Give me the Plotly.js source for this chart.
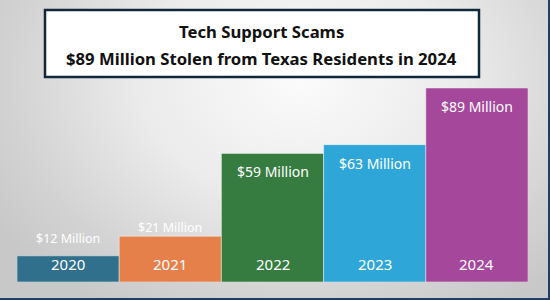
<!DOCTYPE html>
<html>
<head>
<meta charset="utf-8">
<script src="https://cdn.plot.ly/plotly-3.0.1.min.js"></script>
<style>
html,body{margin:0;padding:0;}
#chart{width:550px;height:300px;background:radial-gradient(ellipse 360px 270px at 300px 80px,#fbfbfb 0%,#ebebeb 45%,#d3d3d3 80%,#c8c8c8 100%);}
</style>
</head>
<body>
<div id="chart"></div>
<script>
const years = ['2020','2021','2022','2023','2024'];
const values = [12, 21, 59, 63, 89];
const valueLabels = ['$12 Million','$21 Million','$59 Million','$63 Million','$89 Million'];
const labelInside = [false, false, true, true, true];
const colors = ['#30708c','#e6804a','#367b40','#2ea7d8','#a5479a'];
const titleLines = ['Tech Support Scams','$89 Million Stolen from Texas Residents in 2024'];

const font = '"Noto Sans", Roboto, sans-serif';
const outsideShift = {'2020': 7, '2021': -2};

const annotations = [];
years.forEach((yr, i) => {
  annotations.push({
    x: yr, y: values[i], xref: 'x', yref: 'y',
    text: valueLabels[i], showarrow: false,
    yanchor: labelInside[i] ? 'top' : 'bottom',
    yshift: labelInside[i] ? -7 : (outsideShift[yr] ?? 6),
    font: {family: font, size: labelInside[i] ? 14 : 12.5, color: '#ffffff'}
  });
  annotations.push({
    x: yr, y: 0, xref: 'x', yref: 'y',
    text: yr, showarrow: false, yanchor: 'bottom', yshift: 6,
    font: {family: font, size: 15, color: '#ffffff'}
  });
});
const titleY = [(282-32)/194, (282-58)/194];
titleLines.forEach((t, i) => {
  annotations.push({
    x: (261-17)/511, y: titleY[i], xref: 'paper', yref: 'paper',
    text: '<b>' + t + '</b>', showarrow: false,
    xanchor: 'center', yanchor: 'middle',
    font: {family: font, size: 16.7, color: '#111111'}
  });
});

const trace = {
  type: 'bar', x: years, y: values,
  marker: {color: colors, line: {color: 'rgba(255,255,255,0.45)', width: 1}},
  hoverinfo: 'none'
};

const layout = {
  width: 550, height: 300,
  margin: {l: 17, r: 22, t: 88, b: 18, pad: 0},
  paper_bgcolor: 'rgba(0,0,0,0)', plot_bgcolor: 'rgba(0,0,0,0)',
  bargap: 0,
  showlegend: false,
  xaxis: {visible: false, fixedrange: true},
  yaxis: {visible: false, range: [0, 89], fixedrange: true},
  shapes: [
    {type: 'rect', xref: 'paper', yref: 'paper',
     x0: (45-17)/511, x1: (479-17)/511, y0: (282-77)/194, y1: (282-10)/194,
     fillcolor: '#ffffff', line: {color: '#10283a', width: 2.5}, layer: 'below'},
    {type: 'line', xref: 'paper', yref: 'paper',
     x0: (549-17)/511, x1: (549-17)/511, y0: (282-300)/194, y1: (282-0)/194,
     line: {color: '#1f3f6a', width: 2}},
    {type: 'line', xref: 'paper', yref: 'paper',
     x0: -17/511, x1: (550-17)/511, y0: (282-299)/194, y1: (282-299)/194,
     line: {color: '#1f3f6a', width: 2}}
  ],
  annotations: annotations
};

Plotly.newPlot('chart', [trace], layout, {staticPlot: true, displayModeBar: false});
</script>
</body>
</html>
